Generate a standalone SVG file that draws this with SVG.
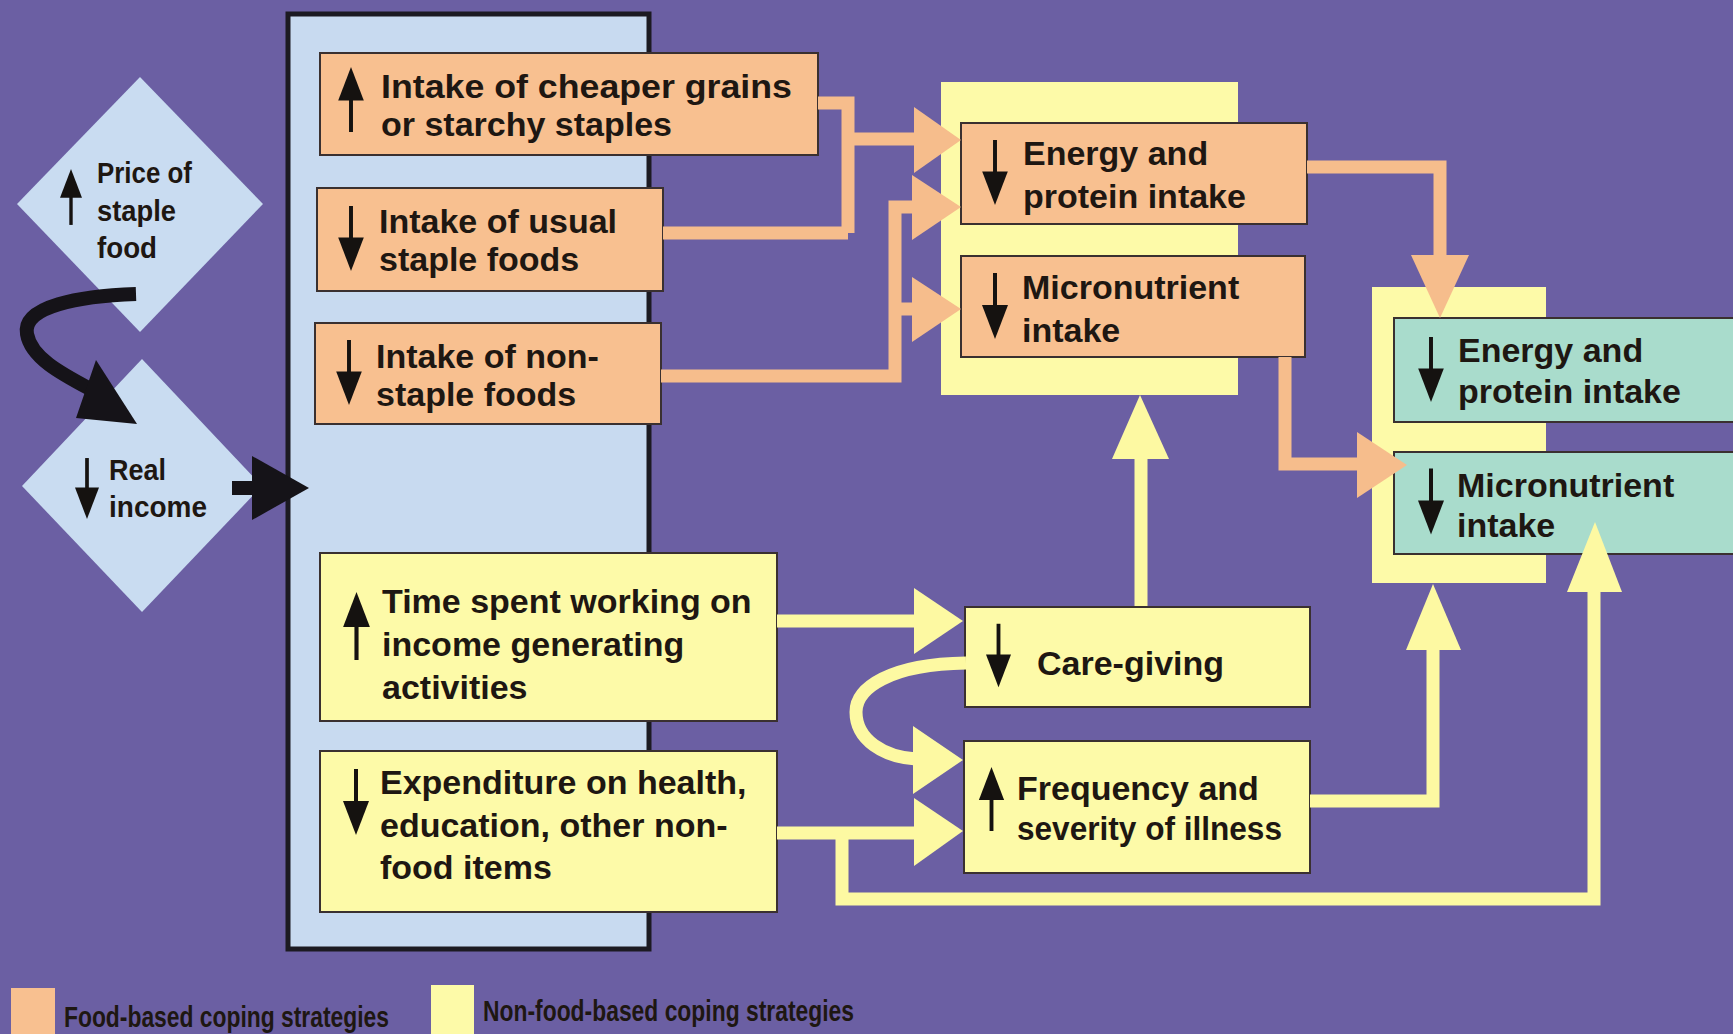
<svg xmlns="http://www.w3.org/2000/svg" xmlns:xlink="http://www.w3.org/1999/xlink" width="1733" height="1034" viewBox="0 0 1733 1034">
<defs>
<style>
.bg{fill:#6b5fa3}
.panel{fill:#c8daf0;stroke:#1c1a22;stroke-width:5}
.dia{fill:#c9dcf1}
.or{fill:#f8c090;stroke:#3a3030;stroke-width:2}
.ye{fill:#fdfaa8;stroke:#3a3030;stroke-width:2}
.te{fill:#a9dccc;stroke:#3a3030;stroke-width:2}
.yebg{fill:#fdfaa8}
.t{font-family:"Liberation Sans",Arial,sans-serif;font-weight:bold;font-size:34px;fill:#1e1712}
.td{font-family:"Liberation Sans",Arial,sans-serif;font-weight:bold;font-size:30px;fill:#1e1712}
.tl{font-family:"Liberation Sans",Arial,sans-serif;font-weight:bold;font-size:29px;fill:#1e1712}
.co{fill:none;stroke:#f6bd8c;stroke-width:13}
.cy{fill:none;stroke:#fdf9a2;stroke-width:13}
.hco{fill:#f6bd8c}
.hcy{fill:#fdf9a2}
.cb{fill:none;stroke:#151318;stroke-width:14}
.hb{fill:#151318}
</style>
<symbol id="aDown" viewBox="0 0 26 66"><rect x="11" y="0" width="4" height="36" fill="#151210"/><polygon points="0,32 26,32 13,66" fill="#151210"/></symbol>
<symbol id="aUp" viewBox="0 0 26 66"><rect x="11" y="30" width="4" height="36" fill="#151210"/><polygon points="13,0 26,34 0,34" fill="#151210"/></symbol>
</defs>
<rect class="bg" x="0" y="0" width="1733" height="1034"/>

<g id="panel"><rect class="panel" x="288" y="14" width="361" height="935"/></g>
<g id="bg-center"><rect class="yebg" x="941" y="82" width="297" height="313"/></g>
<g id="bg-right"><rect class="yebg" x="1372" y="287" width="174" height="296"/></g>

<g id="n-price">
<polygon class="dia" points="140,77 263,204 140,332 17,204"/>
<use href="#aUp" x="60" y="164" width="22" height="66"/>
<text class="td" x="97" y="183" textLength="95" lengthAdjust="spacingAndGlyphs">Price of</text>
<text class="td" x="97" y="221" textLength="79" lengthAdjust="spacingAndGlyphs">staple</text>
<text class="td" x="97" y="258" textLength="60" lengthAdjust="spacingAndGlyphs">food</text>
</g>
<g id="n-income">
<polygon class="dia" points="142,359 262,486 142,612 22,486"/>
<use href="#aDown" x="75" y="456" width="24" height="65"/>
<text class="td" x="109" y="480" textLength="57" lengthAdjust="spacingAndGlyphs">Real</text>
<text class="td" x="109" y="517" textLength="98" lengthAdjust="spacingAndGlyphs">income</text>
</g>

<g id="n-cheaper">
<rect class="or" x="320" y="53" width="498" height="102"/>
<use href="#aUp" x="337" y="67" width="28" height="65"/>
<text class="t" x="381" y="98" textLength="411" lengthAdjust="spacingAndGlyphs">Intake of cheaper grains</text>
<text class="t" x="381" y="136">or starchy staples</text>
</g>
<g id="n-usual">
<rect class="or" x="317" y="188" width="346" height="103"/>
<use href="#aDown" x="338" y="206" width="26" height="65"/>
<text class="t" x="379" y="233">Intake of usual</text>
<text class="t" x="379" y="271">staple foods</text>
</g>
<g id="n-nonstaple">
<rect class="or" x="315" y="323" width="346" height="101"/>
<use href="#aDown" x="336" y="340" width="26" height="65"/>
<text class="t" x="376" y="368">Intake of non-</text>
<text class="t" x="376" y="406">staple foods</text>
</g>
<g id="n-time">
<rect class="ye" x="320" y="553" width="457" height="168"/>
<use href="#aUp" x="343" y="592" width="27" height="68"/>
<text class="t" x="382" y="613">Time spent working on</text>
<text class="t" x="382" y="656">income generating</text>
<text class="t" x="382" y="699">activities</text>
</g>
<g id="n-expenditure">
<rect class="ye" x="320" y="751" width="457" height="161"/>
<use href="#aDown" x="343" y="769" width="26" height="66"/>
<text class="t" x="380" y="794">Expenditure on health,</text>
<text class="t" x="380" y="837">education, other non-</text>
<text class="t" x="380" y="879">food items</text>
</g>

<g id="n-energy1">
<rect class="or" x="961" y="123" width="346" height="101"/>
<use href="#aDown" x="982" y="140" width="26" height="65"/>
<text class="t" x="1023" y="165">Energy and</text>
<text class="t" x="1023" y="208">protein intake</text>
</g>
<g id="n-micro1">
<rect class="or" x="961" y="256" width="344" height="101"/>
<use href="#aDown" x="982" y="273" width="26" height="66"/>
<text class="t" x="1022" y="299">Micronutrient</text>
<text class="t" x="1022" y="342">intake</text>
</g>
<g id="n-care">
<rect class="ye" x="965" y="607" width="345" height="100"/>
<use href="#aDown" x="986" y="623" width="25" height="65"/>
<text class="t" x="1037" y="675">Care-giving</text>
</g>
<g id="n-illness">
<rect class="ye" x="964" y="741" width="346" height="132"/>
<use href="#aUp" x="978" y="767" width="27" height="64"/>
<text class="t" x="1017" y="800">Frequency and</text>
<text class="t" x="1017" y="840" textLength="265" lengthAdjust="spacingAndGlyphs">severity of illness</text>
</g>

<g id="n-energy2">
<rect class="te" x="1394" y="318" width="345" height="104"/>
<use href="#aDown" x="1418" y="337" width="26" height="65"/>
<text class="t" x="1458" y="362">Energy and</text>
<text class="t" x="1458" y="403">protein intake</text>
</g>
<g id="n-micro2">
<rect class="te" x="1394" y="452" width="345" height="102"/>
<use href="#aDown" x="1418" y="468" width="26" height="67"/>
<text class="t" x="1457" y="497">Micronutrient</text>
<text class="t" x="1457" y="537">intake</text>
</g>

<g id="connectors">
<!-- black -->
<path class="cb" d="M136,294 C 80,296 22,306 27,334 C 31,358 62,374 92,390"/>
<polygon class="hb" points="96,360 137,424 76,418"/>
<path class="cb" d="M232,488 H256"/>
<polygon class="hb" points="252,456 309,488 252,520"/>
<!-- orange -->
<path class="co" d="M818,103 H848 V233 M663,233 H848 M848,139 H918"/>
<polygon class="hco" points="914,107 961,140 914,173"/>
<path class="co" d="M661,376 H895 V207 H915 M895,309 H915"/>
<polygon class="hco" points="912,175 961,207 912,240"/>
<polygon class="hco" points="912,277 961,309 912,342"/>
<path class="co" d="M1307,167 H1440 V258"/>
<polygon class="hco" points="1411,255 1469,255 1440,318"/>
<path class="co" d="M1285,357 V464 H1360"/>
<polygon class="hco" points="1357,432 1407,465 1357,498"/>
<!-- yellow -->
<path class="cy" d="M777,621 H917"/>
<polygon class="hcy" points="914,588 963,621 914,654"/>
<path class="cy" d="M777,833 H917"/>
<polygon class="hcy" points="914,798 963,831 914,866"/>
<path class="cy" d="M966,663 C 890,664 856,688 856,712 C 856,740 884,757 916,759"/>
<polygon class="hcy" points="913,726 963,760 913,794"/>
<path class="cy" d="M1141,606 V456"/>
<polygon class="hcy" points="1112,459 1169,459 1140,395"/>
<path class="cy" d="M1310,801 H1433 V648"/>
<polygon class="hcy" points="1406,650 1461,650 1433,584"/>
<path class="cy" d="M842,833 V899 H1594 V590"/>
<polygon class="hcy" points="1567,592 1622,592 1595,522"/>
</g>

<g id="legend">
<rect x="11" y="988" width="44" height="50" fill="#f8c090"/>
<text class="tl" x="64" y="1027" textLength="325" lengthAdjust="spacingAndGlyphs">Food-based coping strategies</text>
<rect x="431" y="985" width="43" height="53" fill="#fdfaa8"/>
<text class="tl" x="483" y="1021" textLength="371" lengthAdjust="spacingAndGlyphs">Non-food-based coping strategies</text>
</g>
</svg>
